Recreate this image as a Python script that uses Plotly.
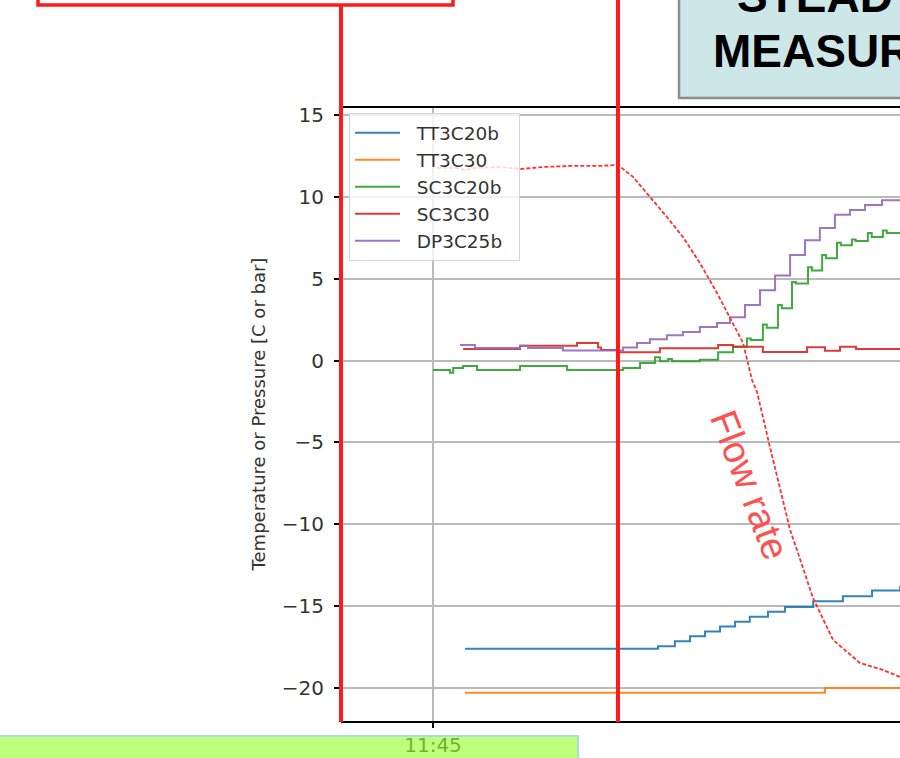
import pandas as pd
import plotly.graph_objects as go

# ---------------- data (minutes after 11:45) ----------------
BASE = pd.Timestamp("2021-01-01 11:45:00")

tt3c20b_t = [1.0, 7.03, 7.56, 8.03, 8.5, 8.97, 9.44, 9.9, 10.47, 11.0, 11.88, 12.81, 13.72, 14.6]
tt3c20b_v = [-17.6, -17.45, -17.15, -16.85, -16.55, -16.25, -15.95, -15.65, -15.35, -15.05, -14.7, -14.4, -14.05, -13.75]

tt3c30_t = [1.0, 12.25, 14.6]
tt3c30_v = [-20.3, -20.0, -20.0]

sc3c20b_t = [0.0, 0.53, 0.63, 0.94, 1.375, 2.72, 4.19, 5.94, 6.47, 6.94, 7.09, 7.34, 7.47, 8.34, 8.91, 9.375,
             9.81, 9.93, 10.31, 10.43, 10.78, 10.9, 11.22, 11.34, 11.72, 11.84, 12.16, 12.28, 12.625, 12.745,
             13.09, 13.21, 13.59, 13.71, 14.06, 14.18, 14.6]
sc3c20b_v = [-0.57, -0.75, -0.45, -0.33, -0.57, -0.33, -0.57, -0.45, -0.15, 0.2, -0.05, 0.1, -0.05, 0.05, 0.5, 0.85,
             1.35, 1.25, 2.2, 2.0, 3.4, 3.2, 4.8, 4.7, 5.7, 5.5, 6.45, 6.25, 7.2, 7.05,
             7.4, 7.3, 7.8, 7.55, 7.95, 7.8, 7.8]

sc3c30_t = [0.94, 2.72, 4.5, 5.16, 5.25, 5.75, 7.09, 8.91, 9.375, 10.31, 11.69, 12.25, 12.72, 13.22, 14.6]
sc3c30_v = [0.7, 0.9, 1.07, 0.8, 0.65, 0.5, 0.75, 0.95, 0.85, 0.52, 0.82, 0.6, 0.85, 0.7, 0.7]

dp3c25b_t = [0.84, 1.31, 2.72, 2.97, 4.06, 5.94, 6.375, 6.78, 7.31, 7.81, 8.34, 8.875, 9.28, 9.75, 10.22,
             10.69, 11.16, 11.625, 12.09, 12.56, 13.03, 13.5, 14.03, 14.6]
dp3c25b_v = [0.95, 0.77, 0.9, 0.77, 0.62, 0.8, 1.07, 1.3, 1.55, 1.75, 2.05, 2.3, 2.65, 3.4, 4.3,
             5.2, 6.45, 7.35, 8.1, 8.9, 9.2, 9.5, 9.8, 9.8]

flow_t = [0.125, 0.69, 1.0, 1.31, 2.09, 2.72, 3.5, 4.28, 5.22, 5.78, 6.25, 6.78, 7.31, 7.81, 8.34, 8.875,
          9.375, 9.69, 9.97, 10.125, 10.53, 11.16, 11.375, 11.875, 12.5, 13.34, 14.06, 14.6]
flow_v = [11.77, 11.77, 11.64, 11.77, 11.83, 11.7, 11.83, 11.89, 11.89, 11.95, 11.22, 10.0, 8.77, 7.55, 5.96, 4.13,
          2.3, 1.08, -1.19, -1.91, -5.28, -10.35, -11.57, -14.5, -17.06, -18.47, -18.9, -19.33]

series_names = ["TT3C20b", "TT3C30", "SC3C20b", "SC3C30", "DP3C25b"]
series_colors = ["#1f77b4", "#ff7f0e", "#2ca02c", "#d62728", "#9467bd"]
x_tick_labels = ["11:45"]
y_ticks = [-20, -15, -10, -5, 0, 5, 10, 15]

X_RANGE_MIN = [-2.875, 14.594]
Y_RANGE = [-22.02, 15.49]


def to_time(mins):
    return [BASE + pd.Timedelta(minutes=m) for m in mins]


fig = go.Figure()

NBSP = "\u00a0"
for name, color, t, v in zip(
    series_names, series_colors,
    [tt3c20b_t, tt3c30_t, sc3c20b_t, sc3c30_t, dp3c25b_t],
    [tt3c20b_v, tt3c30_v, sc3c20b_v, sc3c30_v, dp3c25b_v],
):
    fig.add_trace(go.Scatter(
        x=to_time(t), y=v, name=NBSP * 2 + name + NBSP * 2, mode="lines",
        line=dict(color=color, width=2, shape="hv"), opacity=0.9,
    ))

fig.add_trace(go.Scatter(
    x=to_time(flow_t), y=flow_v, name="Flow rate", mode="lines", showlegend=False,
    line=dict(color="#ff3030", width=1.8, dash="4px,2px"),
))

FONT = "DejaVu Sans"
x_range = [BASE + pd.Timedelta(minutes=m) for m in X_RANGE_MIN]

fig.update_layout(
    width=900, height=758,
    margin=dict(l=341, r=0, t=107, b=37),
    paper_bgcolor="white", plot_bgcolor="white",
    font=dict(family=FONT, size=20, color="#333333"),
    showlegend=True,
    legend=dict(
        x=0.0143, y=0.990, xanchor="left", yanchor="top",
        bgcolor="rgba(255,255,255,0.8)", bordercolor="#d5d5d5", borderwidth=1,
        font=dict(family=FONT, size=18.5, color="#333333"),
        itemwidth=45, tracegroupgap=0,
    ),
    xaxis=dict(
        type="date", range=x_range,
        tickvals=[BASE], ticktext=x_tick_labels,
        ticks="outside", ticklen=5, tickcolor="black", tickwidth=1.5,
        showgrid=True, gridcolor="#bababa", gridwidth=1.5,
        showline=True, linecolor="black", linewidth=2, mirror=False,
        zeroline=False,
        tickfont=dict(family=FONT, size=20, color="#333333"),
    ),
    yaxis=dict(
        range=Y_RANGE, tickvals=y_ticks,
        ticks="outside", ticklen=6, tickcolor="black", tickwidth=1.5,
        ticklabelstandoff=6,
        showgrid=True, gridcolor="#bababa", gridwidth=1.5,
        showline=False, zeroline=False,
        tickfont=dict(family=FONT, size=20, color="#333333"),
        title=dict(text="Temperature or Pressure [C or bar]", standoff=11,
                   font=dict(family=FONT, size=18, color="#333333")),
    ),
)

shapes = [
    # top spine
    dict(type="line", xref="paper", yref="paper", x0=0, x1=1, y0=1, y1=1,
         line=dict(color="black", width=2), layer="above"),
    # red box at top-left
    dict(type="rect", xref="paper", yref="paper", x0=-0.542, x1=0.2004, y0=1.166, y1=1.4,
         line=dict(color="#ff1a1a", width=3.5), fillcolor="rgba(0,0,0,0)", layer="above"),
    # red vertical line from box to axis bottom
    dict(type="line", xref="paper", yref="paper", x0=0.0, x1=0.0, y0=-0.002, y1=1.166,
         line=dict(color="#ff1a1a", width=4), layer="above"),
    # red vertical line at start of change
    dict(type="line", xref="paper", yref="paper", x0=0.4955, x1=0.4955, y0=-0.002, y1=1.2,
         line=dict(color="#ff1a1a", width=4), layer="above"),
    # light blue box top-right
    dict(type="rect", xref="paper", yref="paper", x0=0.6047, x1=1.2, y0=1.0147, y1=1.4,
         line=dict(color="#8c8c8c", width=2.5), fillcolor="#cde6e8", layer="above"),
    # green box bottom-left
    dict(type="rect", xref="paper", yref="paper", x0=-0.7, x1=0.424, y0=-0.0244, y1=-0.2,
         line=dict(color="#aadde0", width=2), fillcolor="rgba(150,255,45,0.62)", layer="above"),
]
fig.update_layout(shapes=shapes)

fig.add_annotation(xref="paper", yref="paper", x=0.7045, y=1.1801, xanchor="left", yanchor="middle",
                   text="STEADY STATE", showarrow=False,
                   font=dict(family="Liberation Sans", size=46, color="black", weight="bold"))
fig.add_annotation(xref="paper", yref="paper", x=0.6620, y=1.0905, xanchor="left", yanchor="middle",
                   text="MEASUREMENT", showarrow=False,
                   font=dict(family="Liberation Sans", size=46, color="black", weight="bold"))
fig.add_annotation(xref="paper", yref="paper", x=0.7315, y=0.385, xanchor="center", yanchor="middle",
                   text="Flow rate", showarrow=False, textangle=69,
                   font=dict(family="Liberation Sans", size=38, color="#ff5050"))

fig.write_html("out.html", config={"displayModeBar": False},
               post_script="document.body.style.margin='0';")
